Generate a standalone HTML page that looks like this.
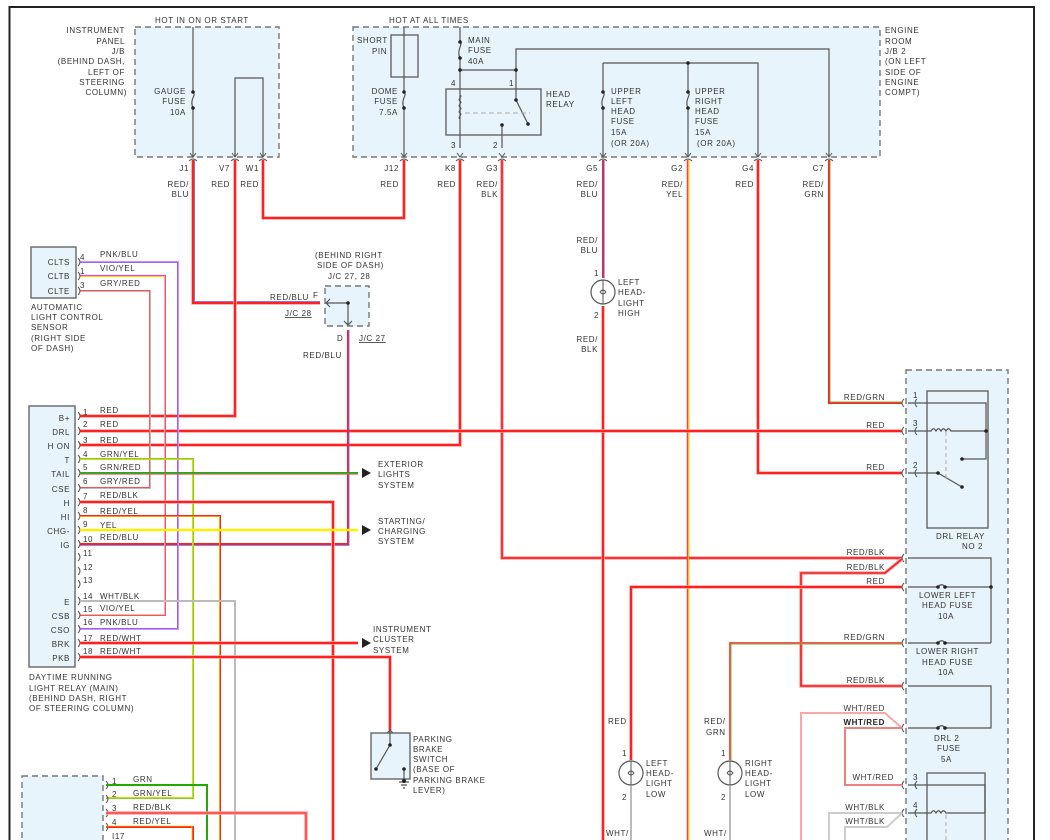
<!DOCTYPE html>
<html><head><meta charset="utf-8"><style>
html,body{margin:0;padding:0;background:#fff;}
svg{display:block;}
text{font-family:"Liberation Sans",sans-serif;font-size:8px;fill:#333;letter-spacing:0.6px;}
.b{fill:#222;}
.box{fill:#e8f4fb;stroke:#777;stroke-width:1.4;stroke-dasharray:6,4;}
.sb{fill:#e8f4fb;stroke:#666;stroke-width:1.4;}
.in{fill:none;stroke:#555;stroke-width:1.2;}
.r{fill:none;stroke:#ff2020;stroke-width:2;}
.rh{fill:none;stroke:#f9a0a0;stroke-width:3.5;}
.g{fill:none;stroke:#aaa;stroke-width:2;}
.d{fill:#222;}
</style></head><body>
<svg width="1050" height="840" viewBox="0 0 1050 840" xmlns="http://www.w3.org/2000/svg">
<rect width="1050" height="840" fill="#fff"/>
<path d="M9.5,840 V7 H1034 V840" fill="none" stroke="#222" stroke-width="2"/>

<rect x="135" y="27" width="144" height="130" class="box"/>
<text x="155" y="23">HOT IN ON OR START</text>
<text x="125" y="33" text-anchor="end">INSTRUMENT</text>
<text x="125" y="44" text-anchor="end">PANEL</text>
<text x="125" y="54" text-anchor="end">J/B</text>
<text x="125" y="64" text-anchor="end">(BEHIND DASH,</text>
<text x="125" y="75" text-anchor="end">LEFT OF</text>
<text x="125" y="85" text-anchor="end">STEERING</text>
<text x="127" y="95" text-anchor="end">COLUMN)</text>
<path class="in" d="M193,27 V92 M193,108 V157 M235,157 V78 H263 V157"/>
<path class="in" d="M193,92 c4,3 -4,7 0,16"/>
<circle cx="193" cy="92" r="1.8" class="d"/><circle cx="193" cy="108" r="1.8" class="d"/>
<text x="186" y="94" text-anchor="end">GAUGE</text>
<text x="186" y="104" text-anchor="end">FUSE</text>
<text x="186" y="115" text-anchor="end">10A</text>

<rect x="353" y="27" width="527" height="130" class="box"/>
<text x="389" y="23">HOT AT ALL TIMES</text>
<text x="885" y="33">ENGINE</text>
<text x="885" y="44">ROOM</text>
<text x="885" y="54">J/B 2</text>
<text x="885" y="64">(ON LEFT</text>
<text x="885" y="75">SIDE OF</text>
<text x="885" y="85">ENGINE</text>
<text x="885" y="95">COMPT)</text>
<rect x="391" y="35" width="27" height="42" class="sb"/>
<text x="357" y="43">SHORT</text>
<text x="372" y="54">PIN</text>
<path class="in" d="M404,27 V92 M404,108 V157"/>
<path class="in" d="M404,92 c4,3 -4,7 0,16"/>
<circle cx="404" cy="92" r="1.8" class="d"/><circle cx="404" cy="108" r="1.8" class="d"/>
<text x="398" y="94" text-anchor="end">DOME</text>
<text x="398" y="104" text-anchor="end">FUSE</text>
<text x="398" y="115" text-anchor="end">7.5A</text>
<path class="in" d="M460,27 V40 M460,58 V84 M460,70 H516 V84 M516,70 V49 H829 V157 M603,63 H758 V157 M603,63 V92 M603,108 V157 M688,63 V92 M688,108 V157"/>
<path class="in" d="M460,40 c4,3 -4,10 0,18 M603,92 c4,3 -4,7 0,16 M688,92 c4,3 -4,7 0,16"/>
<circle cx="460" cy="42" r="1.8" class="d"/><circle cx="460" cy="58" r="1.8" class="d"/>
<circle cx="460" cy="70" r="1.8" class="d"/><circle cx="516" cy="70" r="1.8" class="d"/>
<circle cx="688" cy="63" r="1.8" class="d"/>
<circle cx="603" cy="92" r="1.8" class="d"/><circle cx="603" cy="108" r="1.8" class="d"/>
<circle cx="688" cy="92" r="1.8" class="d"/><circle cx="688" cy="108" r="1.8" class="d"/>
<text x="468" y="43">MAIN</text><text x="468" y="53">FUSE</text><text x="468" y="64">40A</text>
<rect x="446" y="89" width="95" height="46" class="sb"/>
<path class="in" d="M460,84 V148 M460,95 c3,2 -3,4 0,6 c3,2 -3,4 0,6 c3,2 -3,4 0,6 c3,2 -3,4 0,6 M516,84 V100 L528,124 M502,125 V148"/>
<path d="M465,113 H530" stroke="#aaa" stroke-dasharray="5,3" fill="none"/>
<circle cx="516" cy="100" r="1.8" class="d"/><circle cx="528" cy="124" r="1.8" class="d"/><circle cx="502" cy="125" r="1.8" class="d"/>
<text x="451" y="86">4</text><text x="509" y="86">1</text>
<text x="451" y="148">3</text><text x="493" y="148">2</text>
<text x="546" y="97">HEAD</text><text x="546" y="107">RELAY</text>
<text x="611" y="94">UPPER</text><text x="611" y="104">LEFT</text><text x="611" y="114">HEAD</text><text x="611" y="124">FUSE</text><text x="611" y="135">15A</text><text x="611" y="146">(OR 20A)</text>
<text x="695" y="94">UPPER</text><text x="695" y="104">RIGHT</text><text x="695" y="114">HEAD</text><text x="695" y="124">FUSE</text><text x="695" y="135">15A</text><text x="697" y="146">(OR 20A)</text>

<text x="189" y="171" text-anchor="end">J1</text>
<text x="230" y="171" text-anchor="end">V7</text>
<text x="259" y="171" text-anchor="end">W1</text>
<text x="399" y="171" text-anchor="end">J12</text>
<text x="456" y="171" text-anchor="end">K8</text>
<text x="498" y="171" text-anchor="end">G3</text>
<text x="598" y="171" text-anchor="end">G5</text>
<text x="683" y="171" text-anchor="end">G2</text>
<text x="754" y="171" text-anchor="end">G4</text>
<text x="824" y="171" text-anchor="end">C7</text>
<text x="189" y="187" text-anchor="end">RED/</text><text x="189" y="197" text-anchor="end">BLU</text>
<text x="230" y="187" text-anchor="end">RED</text>
<text x="259" y="187" text-anchor="end">RED</text>
<text x="399" y="187" text-anchor="end">RED</text>
<text x="456" y="187" text-anchor="end">RED</text>
<text x="498" y="187" text-anchor="end">RED/</text><text x="498" y="197" text-anchor="end">BLK</text>
<text x="598" y="187" text-anchor="end">RED/</text><text x="598" y="197" text-anchor="end">BLU</text>
<text x="683" y="187" text-anchor="end">RED/</text><text x="683" y="197" text-anchor="end">YEL</text>
<text x="754" y="187" text-anchor="end">RED</text>
<text x="824" y="187" text-anchor="end">RED/</text><text x="824" y="197" text-anchor="end">GRN</text>
<text x="598" y="243" text-anchor="end">RED/</text><text x="598" y="253" text-anchor="end">BLU</text>
<text x="598" y="342" text-anchor="end">RED/</text><text x="598" y="352" text-anchor="end">BLK</text>

<path class="rh" d="M193,160 V303 H320"/><path d="M193,160 V303 H320" stroke="#ff2020" stroke-width="2" fill="none"/><path d="M194.5,160 V301.5 H320" stroke="#6060ff" stroke-width="0.8" fill="none"/>
<path class="rh" d="M235,160 V416 H80"/><path class="r" d="M235,160 V416 H80"/>
<path class="rh" d="M263,160 V218 H404 V160"/><path class="r" d="M263,160 V218 H404 V160"/>
<path class="rh" d="M460,160 V445 H80"/><path class="r" d="M460,160 V445 H80"/>
<path class="rh" d="M502,160 V558 H902"/><path d="M502,160 V558 H902" stroke="#ff3030" stroke-width="2" fill="none"/>
<path d="M603,160 V278" stroke="#ff2020" stroke-width="2" fill="none"/><path d="M604,160 V278" stroke="#5050ff" stroke-width="1" fill="none"/>
<path class="rh" d="M603,306 V840"/><path class="r" d="M603,306 V840"/>
<path d="M688,160 V840" stroke="#ff4040" stroke-width="2.5" fill="none"/><path d="M688.5,160 V840" stroke="#e8d000" stroke-width="1" fill="none"/>
<path class="rh" d="M758,160 V473 H902"/><path class="r" d="M758,160 V473 H902"/>
<path d="M829,160 V403 H902" stroke="#ff2020" stroke-width="2" fill="none"/><path d="M830,160 V402 H902" stroke="#77aa33" stroke-width="0.9" fill="none"/>
<path class="rh" d="M80,431 H902"/><path class="r" d="M80,431 H902"/>

<g stroke="#555" fill="none" stroke-width="1">
<path d="M189,161 q4,-4 8,0 M231,161 q4,-4 8,0 M259,161 q4,-4 8,0 M400,161 q4,-4 8,0 M456,161 q4,-4 8,0 M498,161 q4,-4 8,0 M599,161 q4,-4 8,0 M684,161 q4,-4 8,0 M754,161 q4,-4 8,0 M825,161 q4,-4 8,0"/>
<path d="M190,153 l3,4 l3,-4 M232,153 l3,4 l3,-4 M260,153 l3,4 l3,-4 M401,153 l3,4 l3,-4 M457,153 l3,4 l3,-4 M499,153 l3,4 l3,-4 M600,153 l3,4 l3,-4 M685,153 l3,4 l3,-4 M755,153 l3,4 l3,-4 M826,153 l3,4 l3,-4"/>
</g>

<circle cx="603" cy="292" r="12" fill="#fff" stroke="#555" stroke-width="1.2"/>
<path d="M603,280 V304 M600,292 q3,-4 6,0 q-3,4 -6,0" stroke="#555" fill="none"/>
<text x="594" y="276">1</text><text x="594" y="318">2</text>
<text x="618" y="285">LEFT</text><text x="618" y="295">HEAD-</text><text x="618" y="306">LIGHT</text><text x="618" y="316">HIGH</text>

<text x="315" y="258">(BEHIND RIGHT</text>
<text x="317" y="268">SIDE OF DASH)</text>
<text x="328" y="279">J/C 27, 28</text>
<rect x="325" y="286" width="44" height="40" class="box"/>
<path class="in" d="M326,303 H348 V325 M344,321 l4,4 l4,-4 M330,299 l-4,4 l4,4"/>
<circle cx="348" cy="303" r="1.8" class="d"/>
<text x="270" y="300">RED/BLU</text><text x="313" y="298">F</text>
<text x="285" y="316" text-decoration="underline">J/C 28</text>
<text x="337" y="341">D</text>
<text x="359" y="341" text-decoration="underline">J/C 27</text>
<text x="303" y="358">RED/BLU</text>
<path d="M348,330 V544 H80" stroke="#ff2020" stroke-width="2" fill="none"/><path d="M349,330 V545.5 H80" stroke="#6060ff" stroke-width="0.8" fill="none"/>

<rect x="31" y="247" width="45" height="51" class="sb"/>
<text x="70" y="265" text-anchor="end">CLTS</text>
<text x="70" y="279" text-anchor="end">CLTB</text>
<text x="70" y="294" text-anchor="end">CLTE</text>
<text x="31" y="310">AUTOMATIC</text><text x="31" y="320">LIGHT CONTROL</text><text x="31" y="330">SENSOR</text><text x="31" y="341">(RIGHT SIDE</text><text x="31" y="351">OF DASH)</text>
<text x="80" y="260">4</text><text x="80" y="274">1</text><text x="80" y="288">3</text>
<text x="100" y="257">PNK/BLU</text><text x="100" y="271">VIO/YEL</text><text x="100" y="286">GRY/RED</text>
<path d="M80,262 H178 V629 H80" stroke="#ee88ee" stroke-width="2" fill="none"/><path d="M80,262.5 H177.5 V628.5 H80" stroke="#6060ff" stroke-width="0.8" fill="none"/>
<path d="M80,276 H165 V615 H80" stroke="#ff30ff" stroke-width="2" fill="none"/><path d="M80,276.5 H164.5 V614.5 H80" stroke="#e8e000" stroke-width="0.9" fill="none"/>
<path d="M80,291 H150 V488 H80" stroke="#bbb" stroke-width="2" fill="none"/><path d="M80,290.5 H149.5 V487.5 H80" stroke="#ff5050" stroke-width="0.9" fill="none"/>

<rect x="29" y="406" width="46" height="261" class="sb"/>
<g text-anchor="end">
<text x="70" y="421">B+</text><text x="70" y="435">DRL</text><text x="70" y="449">H ON</text><text x="70" y="463">T</text><text x="70" y="477">TAIL</text><text x="70" y="492">CSE</text><text x="70" y="506">H</text><text x="70" y="520">HI</text><text x="70" y="534">CHG-</text><text x="70" y="548">IG</text><text x="70" y="605">E</text><text x="70" y="619">CSB</text><text x="70" y="633">CSO</text><text x="70" y="647">BRK</text><text x="70" y="661">PKB</text>
</g>
<g>
<text x="83" y="415">1</text><text x="83" y="427">2</text><text x="83" y="443">3</text><text x="83" y="457">4</text><text x="83" y="470">5</text><text x="83" y="484">6</text><text x="83" y="499">7</text><text x="83" y="513">8</text><text x="83" y="527">9</text><text x="83" y="542">10</text><text x="83" y="556">11</text><text x="83" y="570">12</text><text x="83" y="583">13</text><text x="83" y="599">14</text><text x="83" y="612">15</text><text x="83" y="625">16</text><text x="83" y="641">17</text><text x="83" y="654">18</text>
<text x="100" y="413">RED</text><text x="100" y="427">RED</text><text x="100" y="443">RED</text><text x="100" y="457">GRN/YEL</text><text x="100" y="470">GRN/RED</text><text x="100" y="484">GRY/RED</text><text x="100" y="498">RED/BLK</text><text x="100" y="514">RED/YEL</text><text x="100" y="528">YEL</text><text x="100" y="540">RED/BLU</text><text x="100" y="599">WHT/BLK</text><text x="100" y="611">VIO/YEL</text><text x="100" y="625">PNK/BLU</text><text x="100" y="641">RED/WHT</text><text x="100" y="654">RED/WHT</text>
</g>
<g stroke="#555" fill="none" stroke-width="1">
<path d="M78,412 q4,4 0,8 M78,427 q4,4 0,8 M78,441 q4,4 0,8 M78,455 q4,4 0,8 M78,469 q4,4 0,8 M78,484 q4,4 0,8 M78,498 q4,4 0,8 M78,512 q4,4 0,8 M78,526 q4,4 0,8 M78,540 q4,4 0,8 M78,553 q4,4 0,8 M78,567 q4,4 0,8 M78,580 q4,4 0,8 M78,597 q4,4 0,8 M78,611 q4,4 0,8 M78,625 q4,4 0,8 M78,639 q4,4 0,8 M78,653 q4,4 0,8 M78,258 q4,4 0,8 M78,272 q4,4 0,8 M78,287 q4,4 0,8"/>
</g>
<text x="29" y="680">DAYTIME RUNNING</text><text x="29" y="691">LIGHT RELAY (MAIN)</text><text x="29" y="701">(BEHIND DASH, RIGHT</text><text x="29" y="711">OF STEERING COLUMN)</text>

<path d="M80,459 H193 V798 H106" stroke="#88cc33" stroke-width="2" fill="none"/><path d="M80,459.5 H192.5 V797.5 H106" stroke="#e8e000" stroke-width="0.8" fill="none"/>
<path d="M80,473 H358" stroke="#22aa22" stroke-width="2" fill="none"/><path d="M80,474.2 H358" stroke="#ff5050" stroke-width="0.8" fill="none"/>
<path class="rh" d="M80,502 H333 V840"/><path class="r" d="M80,502 H333 V840"/>
<path d="M80,516 H220 V840" stroke="#ff2020" stroke-width="2" fill="none"/><path d="M80,516.5 H219.5 V840" stroke="#e8d000" stroke-width="0.8" fill="none"/>
<path d="M80,530 H358" stroke="#ffee00" stroke-width="2.5" fill="none"/>
<path d="M80,601 H235 V840" stroke="#bbb" stroke-width="2" fill="none"/>
<path class="rh" d="M80,643 H358"/><path class="r" d="M80,643 H358"/>
<path class="rh" d="M80,657 H390 V730"/><path class="r" d="M80,657 H390 V730"/>
<polygon points="362,468 371,473 362,478" class="d"/>
<polygon points="362,525 371,530 362,535" class="d"/>
<polygon points="362,638 371,643 362,648" class="d"/>
<text x="378" y="467">EXTERIOR</text><text x="378" y="477">LIGHTS</text><text x="378" y="488">SYSTEM</text>
<text x="378" y="524">STARTING/</text><text x="378" y="534">CHARGING</text><text x="378" y="544">SYSTEM</text>
<text x="373" y="632">INSTRUMENT</text><text x="373" y="642">CLUSTER</text><text x="373" y="653">SYSTEM</text>

<rect x="371" y="733" width="39" height="46" class="sb"/>
<path class="in" d="M390,729 V745 L376,769 M387,733 l3,-3 l3,3 M404,768 V782 M399,782 H409 M401,785 H407 M403,788 H405"/>
<circle cx="390" cy="745" r="1.8" class="d"/><circle cx="376" cy="769" r="1.8" class="d"/><circle cx="404" cy="769" r="1.8" class="d"/><circle cx="404" cy="781" r="2" class="d"/>
<text x="413" y="742">PARKING</text><text x="413" y="752">BRAKE</text><text x="413" y="762">SWITCH</text><text x="413" y="772">(BASE OF</text><text x="413" y="783">PARKING BRAKE</text><text x="413" y="793">LEVER)</text>

<rect x="22" y="776" width="81" height="70" class="box"/>
<g stroke="#555" fill="none" stroke-width="1"><path d="M106,781 q4,4 0,8 M106,795 q4,4 0,8 M106,809 q4,4 0,8 M106,823 q4,4 0,8"/></g>
<text x="112" y="784">1</text><text x="112" y="797">2</text><text x="112" y="811">3</text><text x="112" y="825">4</text><text x="112" y="839">I17</text>
<text x="133" y="782">GRN</text><text x="133" y="796">GRN/YEL</text><text x="133" y="810">RED/BLK</text><text x="133" y="824">RED/YEL</text>
<path d="M106,785 H207 V840" stroke="#22aa00" stroke-width="2" fill="none"/>
<path class="rh" d="M106,813 H306 V840"/><path d="M106,813 H306 V840" stroke="#ff4040" stroke-width="1.5" fill="none"/>
<path d="M106,827 H193 V840" stroke="#ff2020" stroke-width="2" fill="none"/><path d="M106,826 H192 V840" stroke="#e8d000" stroke-width="0.8" fill="none"/>

<rect x="906" y="370" width="102" height="475" class="box"/>
<rect x="927" y="391" width="61" height="137" class="sb"/>
<path class="in" d="M908,403 H986 V431 M908,431 H931 c2,-3 3,-3 5,0 c2,-3 3,-3 5,0 c2,-3 3,-3 5,0 c2,-3 3,-3 5,0 H986 M986,431 V459 H962 M908,473 H938 L962,487"/>
<path d="M946,432 V480" stroke="#aaa" stroke-dasharray="4,3" fill="none"/>
<circle cx="986" cy="431" r="1.8" class="d"/><circle cx="962" cy="459" r="1.8" class="d"/><circle cx="938" cy="473" r="1.8" class="d"/><circle cx="962" cy="487" r="1.8" class="d"/>
<text x="913" y="398" font-size="7">1</text><text x="913" y="426" font-size="7">3</text><text x="913" y="468" font-size="7">2</text>
<text x="936" y="539">DRL RELAY</text><text x="962" y="549">NO 2</text>
<g stroke="#555" fill="none" stroke-width="1">
<path d="M904,399 q-4,4 0,8 M904,427 q-4,4 0,8 M904,469 q-4,4 0,8 M904,554 q-4,4 0,8 M904,583 q-4,4 0,8 M904,639 q-4,4 0,8 M904,682 q-4,4 0,8 M904,724 q-4,4 0,8 M904,781 q-4,4 0,8 M904,809 q-4,4 0,8"/>
<path d="M917,399 q-4,4 0,8 M917,427 q-4,4 0,8 M917,469 q-4,4 0,8 M917,781 q-4,4 0,8 M917,809 q-4,4 0,8"/>
</g>
<path class="in" d="M908,558 H991 V643 M908,587 H938 c2,-3 5,-3 7,0 H991 M908,643 H938 c2,-3 5,-3 7,0 H991 M908,686 H991 V728 H945 c-2,-3 -5,-3 -7,0 H908"/>
<circle cx="938" cy="587" r="1.8" class="d"/><circle cx="945" cy="587" r="1.8" class="d"/><circle cx="991" cy="587" r="1.8" class="d"/>
<circle cx="938" cy="643" r="1.8" class="d"/><circle cx="945" cy="643" r="1.8" class="d"/>
<circle cx="938" cy="728" r="1.8" class="d"/><circle cx="945" cy="728" r="1.8" class="d"/>
<text x="919" y="598">LOWER LEFT</text><text x="922" y="608">HEAD FUSE</text><text x="938" y="619">10A</text>
<text x="916" y="654">LOWER RIGHT</text><text x="922" y="665">HEAD FUSE</text><text x="938" y="675">10A</text>
<text x="934" y="741">DRL 2</text><text x="937" y="751">FUSE</text><text x="941" y="762">5A</text>
<rect x="927" y="773" width="58" height="75" class="sb"/>
<path class="in" d="M908,785 H985 V813 M908,813 H931 c2,-3 3,-3 5,0 c2,-3 3,-3 5,0 c2,-3 3,-3 5,0 H985"/>
<path d="M946,815 V840" stroke="#aaa" stroke-dasharray="4,3" fill="none"/>
<text x="913" y="780" font-size="7">3</text><text x="913" y="808" font-size="7">4</text>

<g text-anchor="end">
<text x="885" y="400">RED/GRN</text><text x="885" y="428">RED</text><text x="885" y="470">RED</text>
<text x="885" y="555">RED/BLK</text><text x="885" y="570">RED/BLK</text><text x="885" y="584">RED</text>
<text x="885" y="640">RED/GRN</text><text x="885" y="683">RED/BLK</text>
<text x="885" y="711">WHT/RED</text><text x="885" y="725" class="b" font-weight="bold">WHT/RED</text>
<text x="894" y="780">WHT/RED</text><text x="885" y="810">WHT/BLK</text><text x="885" y="824">WHT/BLK</text>
</g>
<path class="rh" d="M902,559 L885,573 H801 V686 H902"/><path d="M902,559 L885,573 H801 V686 H902" stroke="#ee2020" stroke-width="1.6" fill="none"/>
<path class="rh" d="M902,587 H631 V760"/><path class="r" d="M902,587 H631 V760"/>
<path d="M902,643 H730 V760" stroke="#ff5050" stroke-width="2" fill="none"/><path d="M902,644 H731 V760" stroke="#77aa33" stroke-width="0.9" fill="none"/>
<path d="M902,728 L885,713 H801 V840" stroke="#f7a8a8" stroke-width="2" fill="none"/>
<path d="M902,728 H845 V785 H902" stroke="#f08080" stroke-width="2" fill="none"/>
<path d="M902,813 L885,813 H829 V840" stroke="#ccc" stroke-width="2" fill="none"/>
<path d="M902,813 L887,827 H845 V840" stroke="#ccc" stroke-width="2" fill="none"/>

<circle cx="631" cy="773" r="12" fill="#fff" stroke="#555" stroke-width="1.2"/>
<path d="M631,761 V785 M628,773 q3,-4 6,0 q-3,4 -6,0" stroke="#555" fill="none"/>
<circle cx="730" cy="773" r="12" fill="#fff" stroke="#555" stroke-width="1.2"/>
<path d="M730,761 V785 M727,773 q3,-4 6,0 q-3,4 -6,0" stroke="#555" fill="none"/>
<path d="M631,786 V840 M730,786 V840" stroke="#bbb" stroke-width="2" fill="none"/>
<text x="622" y="756">1</text><text x="622" y="800">2</text><text x="721" y="756">1</text><text x="721" y="800">2</text>
<text x="646" y="766">LEFT</text><text x="646" y="776">HEAD-</text><text x="646" y="786">LIGHT</text><text x="646" y="797">LOW</text>
<text x="745" y="766">RIGHT</text><text x="745" y="776">HEAD-</text><text x="745" y="786">LIGHT</text><text x="745" y="797">LOW</text>
<text x="608" y="724">RED</text>
<text x="704" y="724">RED/</text><text x="706" y="735">GRN</text>
<text x="606" y="836">WHT/</text><text x="704" y="836">WHT/</text>
</svg>
</body></html>
